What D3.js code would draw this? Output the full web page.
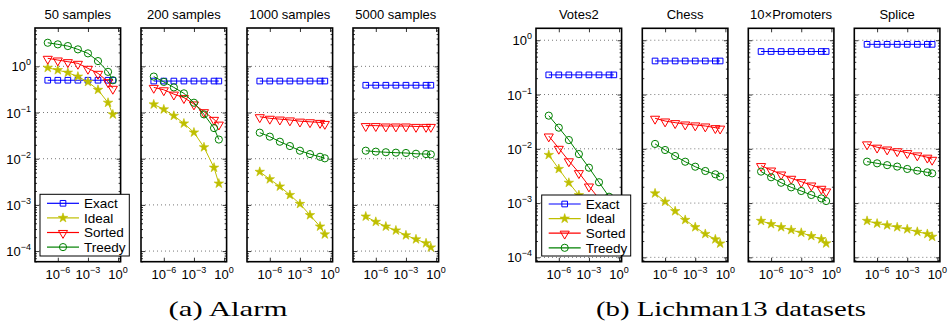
<!DOCTYPE html>
<html>
<head>
<meta charset="utf-8">
<script src="https://cdn.jsdelivr.net/npm/d3@7"></script>
<style>
  body { margin: 0; background: #fff; }
  svg { display: block; font-family: "Liberation Sans", Arial, sans-serif; }
</style>
</head>
<body>
<svg id="chart" width="949" height="325"></svg>
<script>
// x positions (epsilon) shared by every panel
const xVals = [1e-7, 1e-6, 1e-5, 1e-4, 1e-3, 1e-2, 1e-1, 0.3];
const xTicks = [1e-6, 1e-3, 1];
const seriesNames = ["Exact", "Ideal", "Sorted", "Treedy"];

// (a) Alarm
const alarmTitles = ["50 samples", "200 samples", "1000 samples", "5000 samples"];
const alarmExact = [
  [0.50, 0.50, 0.50, 0.50, 0.50, 0.50, 0.50, 0.50],
  [0.48, 0.48, 0.48, 0.48, 0.48, 0.48, 0.48, 0.48],
  [0.48, 0.48, 0.48, 0.48, 0.48, 0.48, 0.48, 0.48],
  [0.39, 0.39, 0.39, 0.39, 0.39, 0.39, 0.39, 0.39]
];
const alarmIdeal = [
  [0.93, 0.83, 0.73, 0.60, 0.46, 0.31, 0.163, 0.091],
  [0.150, 0.117, 0.085, 0.058, 0.037, 0.0177, 0.0064, 0.0029],
  [5.2e-3, 3.6e-3, 2.5e-3, 1.64e-3, 1.05e-3, 6.0e-4, 3.4e-4, 2.3e-4],
  [5.6e-4, 4.3e-4, 3.4e-4, 2.8e-4, 2.2e-4, 1.8e-4, 1.48e-4, 1.2e-4]
];
const alarmSorted = [
  [1.49, 1.37, 1.26, 1.16, 0.905, 0.705, 0.464, 0.334],
  [0.35, 0.31, 0.25, 0.21, 0.153, 0.104, 0.071, 0.056],
  [0.081, 0.075, 0.072, 0.069, 0.065, 0.063, 0.061, 0.058],
  [0.052, 0.052, 0.051, 0.051, 0.051, 0.050, 0.050, 0.050]
];
const alarmTreedy = [
  [3.24, 2.99, 2.75, 2.33, 1.91, 1.30, 0.76, 0.50],
  [0.60, 0.46, 0.35, 0.26, 0.163, 0.091, 0.046, 0.026],
  [0.0366, 0.030, 0.0233, 0.0188, 0.0149, 0.0126, 0.011, 0.0102],
  [0.0149, 0.0142, 0.0138, 0.0135, 0.0133, 0.0128, 0.0126, 0.0124]
];

// (b) Lichman13 datasets
const lichTitles = ["Votes2", "Chess", "10\u00d7Promoters", "Splice"];
const lichExact = [
  [0.23, 0.23, 0.23, 0.23, 0.23, 0.23, 0.23, 0.23],
  [0.415, 0.415, 0.415, 0.415, 0.415, 0.415, 0.415, 0.415],
  [0.62, 0.62, 0.62, 0.62, 0.62, 0.62, 0.62, 0.62],
  [0.84, 0.84, 0.84, 0.84, 0.84, 0.84, 0.84, 0.84]
];
const lichIdeal = [
  [0.0077, 0.00425, 0.00237, 0.0014, 8e-4, 4.6e-4, 2.7e-4, 2e-4],
  [1.51e-3, 1.06e-3, 7.1e-4, 4.9e-4, 3.6e-4, 2.7e-4, 2.15e-4, 1.8e-4],
  [4.7e-4, 4.1e-4, 3.6e-4, 3.2e-4, 2.84e-4, 2.47e-4, 2.17e-4, 1.81e-4],
  [4.7e-4, 4.2e-4, 3.9e-4, 3.6e-4, 3.3e-4, 2.96e-4, 2.7e-4, 2.4e-4]
];
const lichSorted = [
  [0.0172, 0.0102, 0.0060, 0.00363, 0.00206, 0.0012, 7e-4, 5.5e-4],
  [0.0365, 0.0325, 0.0303, 0.0286, 0.0275, 0.0263, 0.0245, 0.024],
  [4.9e-3, 4.06e-3, 3.43e-3, 2.86e-3, 2.48e-3, 2.15e-3, 1.87e-3, 1.67e-3],
  [0.0123, 0.0107, 0.0099, 0.0092, 0.0085, 0.0077, 0.0070, 0.0064]
];
const lichTreedy = [
  [0.0408, 0.0245, 0.0145, 0.0080, 0.00449, 0.00242, 0.00131, 9.5e-4],
  [0.0123, 0.0095, 0.00736, 0.00578, 0.00468, 0.0039, 0.00339, 0.00306],
  [3.8e-3, 2.99e-3, 2.37e-3, 1.95e-3, 1.67e-3, 1.41e-3, 1.22e-3, 1.09e-3],
  [5.8e-3, 5.4e-3, 5.0e-3, 4.7e-3, 4.25e-3, 3.95e-3, 3.69e-3, 3.53e-3]
];

const colors = { Exact: "#0000ff", Ideal: "#bfbf00", Sorted: "#ff0000", Treedy: "#008000" };

const svg = d3.select("#chart");
const panelW = 85.6;

function supLabel(sel, exp, x, y, anchor) {
  const t = sel.append("text")
    .attr("x", x).attr("y", y)
    .attr("text-anchor", anchor)
    .attr("font-size", 13)
    .attr("fill", "#000");
  t.append("tspan").text("10");
  t.append("tspan").attr("font-size", 9).attr("dy", -6).text(exp);
}

function drawMarker(g, name, x, y) {
  const c = colors[name];
  if (name === "Exact") {
    g.append("path").attr("d", d3.symbol(d3.symbolSquare, 32)())
      .attr("transform", `translate(${x},${y})`)
      .attr("fill", "none").attr("stroke", c).attr("stroke-width", 1);
  } else if (name === "Ideal") {
    g.append("path").attr("d", d3.symbol(d3.symbolStar, 28)())
      .attr("transform", `translate(${x},${y})`)
      .attr("fill", c).attr("stroke", c).attr("stroke-width", 0.6);
  } else if (name === "Sorted") {
    g.append("path").attr("d", d3.symbol(d3.symbolTriangle, 36)())
      .attr("transform", `translate(${x},${y + 0.6}) rotate(180)`)
      .attr("fill", "none").attr("stroke", c).attr("stroke-width", 1);
  } else {
    g.append("circle").attr("cx", x).attr("cy", y).attr("r", 3.6)
      .attr("fill", "none").attr("stroke", c).attr("stroke-width", 1);
  }
}

function drawGroup(cfg) {
  const x = d3.scaleLog().domain([Math.pow(10, -8.27), Math.pow(10, 0.25)]).range([0, panelW]);
  const y = d3.scaleLog().domain([Math.pow(10, cfg.yLo), Math.pow(10, cfg.yHi)])
    .range([cfg.bottom - cfg.top, 0]);
  const h = cfg.bottom - cfg.top;
  const decades = d3.range(Math.ceil(cfg.yLo), Math.floor(cfg.yHi) + 1).map(e => Math.pow(10, e));
  const minors = [];
  for (let e = Math.floor(cfg.yLo); e <= Math.ceil(cfg.yHi); e++) {
    for (let m = 2; m <= 9; m++) {
      const v = m * Math.pow(10, e);
      if (Math.log10(v) > cfg.yLo && Math.log10(v) < cfg.yHi) minors.push(v);
    }
  }

  cfg.lefts.forEach((left, p) => {
    const g = svg.append("g").attr("transform", `translate(${left},${cfg.top})`);

    // dotted grid at decades
    g.selectAll("line.grid").data(decades).enter().append("line")
      .attr("x1", 0).attr("x2", panelW)
      .attr("y1", d => y(d)).attr("y2", d => y(d))
      .attr("stroke", "#555").attr("stroke-width", 0.8)
      .attr("stroke-dasharray", "1,3");

    // ticks inside on all sides
    const tickStyle = s => {
      s.select(".domain").remove();
      s.selectAll("line").attr("stroke", "#000").attr("stroke-width", 0.8);
      s.selectAll("text").remove();
    };
    g.append("g").call(d3.axisLeft(y).tickValues(decades).tickSize(-4)).call(tickStyle);
    g.append("g").attr("transform", `translate(${panelW},0)`)
      .call(d3.axisRight(y).tickValues(decades).tickSize(-4)).call(tickStyle);
    g.append("g").call(d3.axisLeft(y).tickValues(minors).tickSize(-2)).call(tickStyle);
    g.append("g").attr("transform", `translate(${panelW},0)`)
      .call(d3.axisRight(y).tickValues(minors).tickSize(-2)).call(tickStyle);
    g.append("g").attr("transform", `translate(0,${h})`)
      .call(d3.axisBottom(x).tickValues(xTicks).tickSize(-4)).call(tickStyle);
    g.append("g").call(d3.axisTop(x).tickValues(xTicks).tickSize(-4)).call(tickStyle);

    // series
    const line = d3.line().x((d, i) => x(xVals[i])).y(d => y(d));
    seriesNames.forEach(name => {
      const vals = cfg.data[name][p];
      g.append("path").datum(vals)
        .attr("d", line)
        .attr("fill", "none").attr("stroke", colors[name]).attr("stroke-width", 1);
      vals.forEach((v, i) => drawMarker(g, name, x(xVals[i]), y(v)));
    });

    // frame
    g.append("rect").attr("x", 0).attr("y", 0).attr("width", panelW).attr("height", h)
      .attr("fill", "none").attr("stroke", "#000").attr("stroke-width", 1.6);

    // title
    g.append("text").attr("x", panelW / 2).attr("y", 18.5 - cfg.top)
      .attr("text-anchor", "middle").attr("font-size", 13).text(cfg.titles[p]);

    // x tick labels
    xTicks.forEach(t => supLabel(g, t === 1 ? "0" : String(Math.round(Math.log10(t))).replace("-", "\u2212"),
      x(t), 279 - cfg.top, "middle"));

    // y tick labels on first panel
    if (p === 0) {
      decades.forEach(d => {
        const e = Math.round(Math.log10(d));
        supLabel(g, e === 0 ? "0" : String(e).replace("-", "\u2212"), -4, y(d) + 5, "end");
      });
    }
  });

  // legend
  const L = cfg.legend;
  const lg = svg.append("g").attr("transform", `translate(${L.x},${L.y})`);
  lg.append("rect").attr("width", L.w).attr("height", L.h)
    .attr("fill", "#fff").attr("stroke", "#000").attr("stroke-width", 1);
  seriesNames.forEach((name, i) => {
    const yy = 9 + i * 14.6;
    lg.append("line").attr("x1", 7).attr("x2", 39).attr("y1", yy).attr("y2", yy)
      .attr("stroke", colors[name]).attr("stroke-width", 1.2);
    drawMarker(lg, name, 23, yy);
    lg.append("text").attr("x", 44).attr("y", yy + 4.7).attr("font-size", 13.5).text(name);
  });

  // caption
  svg.append("text").attr("x", cfg.captionX).attr("y", 316)
    .attr("text-anchor", "middle")
    .attr("font-family", "'Liberation Serif', 'DejaVu Serif', serif")
    .attr("font-size", 22)
    .attr("textLength", cfg.captionW).attr("lengthAdjust", "spacingAndGlyphs")
    .text(cfg.caption);
}

drawGroup({
  lefts: [35, 141, 247, 353], top: 28, bottom: 261.7, yLo: -4.23, yHi: 0.83,
  titles: alarmTitles,
  data: { Exact: alarmExact, Ideal: alarmIdeal, Sorted: alarmSorted, Treedy: alarmTreedy },
  legend: { x: 40, y: 194.3, w: 89.3, h: 61.7 },
  caption: "(a) Alarm", captionX: 228, captionW: 119
});

drawGroup({
  lefts: [536, 642.3, 748.3, 854.3], top: 28.3, bottom: 261.7, yLo: -4.08, yHi: 0.22,
  titles: lichTitles,
  data: { Exact: lichExact, Ideal: lichIdeal, Sorted: lichSorted, Treedy: lichTreedy },
  legend: { x: 541.7, y: 195, w: 89, h: 61 },
  caption: "(b) Lichman13 datasets", captionX: 731, captionW: 270
});
</script>
</body>
</html>
